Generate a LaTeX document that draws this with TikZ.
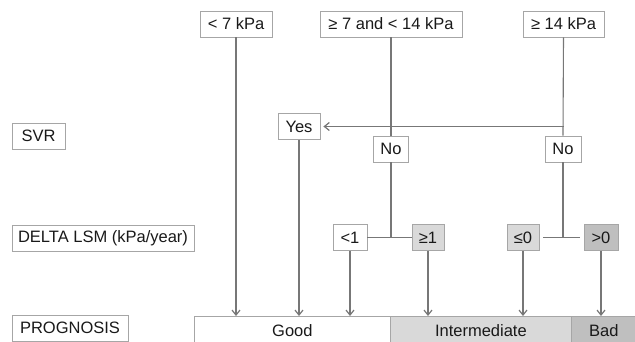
\documentclass[tikz,border=0pt]{standalone}
\usepackage{fontspec}
\setmainfont{Liberation Sans}
\usetikzlibrary{arrows.meta}
\definecolor{lnc}{HTML}{777777}
\definecolor{bdc}{HTML}{A6A6A6}
\definecolor{lg}{HTML}{D9D9D9}
\definecolor{dg}{HTML}{BFBFBF}
\begin{document}
\begin{tikzpicture}[x=1pt,y=-1pt,
  box/.style={draw=bdc,line width=0.8pt,inner sep=0pt,minimum height=26pt,font=\fontsize{16.5}{18}\selectfont,text=black!90},
  bar/.style={draw=bdc,line width=0.8pt,inner sep=0pt,anchor=north west,minimum height=28pt,font=\fontsize{16.5}{18}\selectfont,text=black!90},
  conn/.style={draw=lnc,line width=1.1pt},
  arr/.style={conn,-{Straight Barb[length=5pt,width=8pt,line width=1.2pt]}}]
\useasboundingbox (0,0) rectangle (635,341);
% level labels
\node[box,minimum width=53pt] (svr) at (38.5,136) {SVR};
\node[box,minimum width=182pt] (delta) at (103,238) {DELTA LSM (kPa/year)};
\node[box,minimum width=116pt] (prog) at (70,328) {PROGNOSIS};
% top boxes
\node[box,minimum width=72pt] (k7) at (236,24) {< 7 kPa};
\node[box,minimum width=142pt] (k714) at (391,24) {≥ 7 and < 14 kPa};
\node[box,minimum width=81pt] (k14) at (563.5,24) {≥ 14 kPa};
% SVR
\node[box,minimum width=42pt,fill=white] (yes) at (299,126.5) {Yes};
\node[box,minimum width=35pt,fill=white] (no1) at (391,149) {No};
\node[box,minimum width=36pt,fill=white] (no2) at (563,149) {No};
% delta
\node[box,minimum width=34pt] (lt1) at (350,237.5) {<1};
\node[box,minimum width=32pt,fill=lg] (ge1) at (428,237.5) {≥1};
\node[box,minimum width=32pt,fill=lg] (le0) at (523,237.5) {≤0};
\node[box,minimum width=34pt,fill=dg] (gt0) at (601,237.5) {>0};
% prognosis bar
\node[bar,minimum width=196pt] (good) at (194,316) {Good};
\node[bar,minimum width=181pt,fill=lg] (inter) at (390,316) {Intermediate};
\node[bar,minimum width=65pt,fill=dg] (bad) at (571,316) {Bad};
% connectors
\coordinate (j1) at (no1.south |- lt1.east);
\coordinate (j2) at (no2.south |- le0.east);
\coordinate (h14) at (k14.south |- yes.east);
\draw[conn] (k714.south) -- (no1.north);
\draw[conn] (k14.south) -- (no2.north);
\draw[arr] (h14) -- ([xshift=3pt]yes.east);
\draw[conn] (no1.south) -- (j1);
\draw[conn] (no2.south) -- (j2);
\draw[conn] (lt1.east) -- (ge1.west);
\draw[conn] ([xshift=4pt]le0.east) -- ([xshift=-4pt]gt0.west);
\draw[arr] (k7.south) -- (k7.south |- good.north);
\draw[arr] (yes.south) -- (yes.south |- good.north);
\draw[arr] (lt1.south) -- (lt1.south |- good.north);
\draw[arr] (ge1.south) -- (ge1.south |- inter.north);
\draw[arr] (le0.south) -- (le0.south |- inter.north);
\draw[arr] (gt0.south) -- (gt0.south |- bad.north);
\end{tikzpicture}
\end{document}
